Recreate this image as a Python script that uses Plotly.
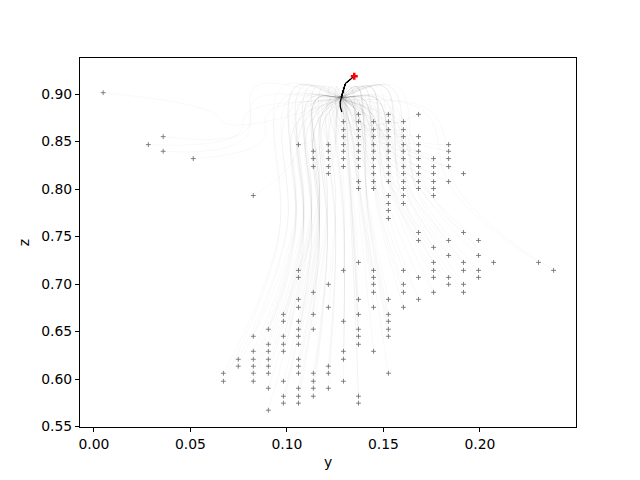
import plotly.graph_objects as go

# Start points, grouped by row (z value) -> list of y values
row_z = [0.9015, 0.8787, 0.8710, 0.8626, 0.8552, 0.8468, 0.8398, 0.8321, 0.8237, 0.8163,
         0.8079, 0.8006, 0.7932, 0.7848, 0.7774, 0.7690, 0.7543, 0.7459, 0.7386, 0.7301,
         0.7228, 0.7144, 0.7070, 0.6997, 0.6913, 0.6839, 0.6755, 0.6681, 0.6608, 0.6524,
         0.6450, 0.6366, 0.6292, 0.6208, 0.6135, 0.6061, 0.5977, 0.5903, 0.5819, 0.5746,
         0.5672]
row_y = [
    [0.0048],
    [0.1371, 0.1526, 0.1682],
    [0.1293, 0.1371, 0.1449, 0.1526, 0.1604],
    [0.1293, 0.1371, 0.1449, 0.1526, 0.1604],
    [0.0359, 0.1293, 0.1371, 0.1449, 0.1526, 0.1604, 0.1682],
    [0.0282, 0.1060, 0.1215, 0.1293, 0.1371, 0.1449, 0.1526, 0.1604, 0.1682, 0.1838],
    [0.0359, 0.1137, 0.1215, 0.1293, 0.1371, 0.1449, 0.1526, 0.1604, 0.1682, 0.1838],
    [0.0515, 0.1137, 0.1215, 0.1293, 0.1371, 0.1449, 0.1526, 0.1604, 0.1682, 0.1760, 0.1838],
    [0.1137, 0.1215, 0.1293, 0.1371, 0.1449, 0.1526, 0.1604, 0.1682, 0.1760, 0.1838],
    [0.1215, 0.1449, 0.1526, 0.1604, 0.1682, 0.1760, 0.1915],
    [0.1371, 0.1449, 0.1526, 0.1604, 0.1682, 0.1760, 0.1838],
    [0.1371, 0.1449, 0.1604, 0.1682, 0.1760],
    [0.0826, 0.1526, 0.1604, 0.1760],
    [0.1526, 0.1604],
    [0.1526],
    [0.1526],
    [0.1682, 0.1915],
    [0.1682, 0.1838, 0.1993],
    [0.1760],
    [0.1838, 0.1993],
    [0.1371, 0.1760, 0.1915, 0.2071, 0.2304],
    [0.1060, 0.1293, 0.1449, 0.1604, 0.1760, 0.1915, 0.1993, 0.2382],
    [0.1060, 0.1449, 0.1682, 0.1760, 0.1838, 0.1993],
    [0.1215, 0.1449, 0.1604, 0.1838, 0.1915],
    [0.1137, 0.1449, 0.1604, 0.1760, 0.1915],
    [0.1060, 0.1371, 0.1526, 0.1682],
    [0.1060, 0.1215, 0.1449, 0.1604],
    [0.0982, 0.1137, 0.1371, 0.1526],
    [0.0982, 0.1060, 0.1293, 0.1526],
    [0.0904, 0.1060, 0.1137, 0.1371, 0.1526],
    [0.0826, 0.0982, 0.1060, 0.1371, 0.1526],
    [0.0904, 0.0982, 0.1060, 0.1371],
    [0.0826, 0.0904, 0.0982, 0.1293, 0.1449],
    [0.0748, 0.0826, 0.0904, 0.1060, 0.1293],
    [0.0748, 0.0826, 0.0904, 0.1060, 0.1215],
    [0.0671, 0.0826, 0.0904, 0.1060, 0.1137, 0.1215, 0.1526],
    [0.0671, 0.0826, 0.0982, 0.1137, 0.1293],
    [0.0904, 0.1060, 0.1137, 0.1215],
    [0.0982, 0.1060, 0.1137, 0.1371],
    [0.0982, 0.1060, 0.1371],
    [0.0904],
]

# Highlighted (black) trajectory to the end point
path_y = [0.1285, 0.1277, 0.1276, 0.1283, 0.1290, 0.1298, 0.1305, 0.1319, 0.1331, 0.1342, 0.1349]
path_z = [0.8811, 0.8863, 0.8916, 0.8976, 0.9021, 0.9074, 0.9116, 0.9137, 0.9158, 0.9179, 0.9189]

end_y = [0.1349]
end_z = [0.9189]

pts_y = [y for ys in row_y for y in ys]
pts_z = [z for z, ys in zip(row_z, row_y) for _ in ys]

fig = go.Figure()

# faint trajectories from every start point, fanning into a cloud and joining the end path
for i, (y0, z0) in enumerate(zip(pts_y, pts_z)):
    v = (i % 4) / 3.0
    w1y = y0 + 0.45 * (0.130 - y0)
    w1z = z0 + 0.55 * (0.865 - z0)
    w2y = 0.126 + 0.45 * (y0 - 0.130)
    w2z = 0.868 + 0.04 * v
    fig.add_trace(go.Scatter(
        x=[y0, w1y, w2y] + path_y[3:], y=[z0, w1z, w2z] + path_z[3:],
        mode="lines", line=dict(color="rgba(0,0,0,0.04)", width=0.8, shape="spline", smoothing=1.2),
        hoverinfo="skip", showlegend=False))

fig.add_trace(go.Scatter(x=path_y, y=path_z, mode="lines",
                         line=dict(color="black", width=1.3), showlegend=False))

fig.add_trace(go.Scatter(x=pts_y, y=pts_z, mode="markers",
                         marker=dict(symbol="cross-thin", size=3.5,
                                     line=dict(color="rgba(110,110,110,0.85)", width=1)),
                         showlegend=False))

fig.add_trace(go.Scatter(x=end_y, y=end_z, mode="markers",
                         marker=dict(symbol="cross-thin", size=5,
                                     line=dict(color="red", width=2.5)),
                         showlegend=False))

font = dict(family="DejaVu Sans", size=13.9, color="black")
axis_common = dict(showgrid=False, zeroline=False, showline=True, linecolor="black",
                   linewidth=1, mirror=True, ticks="outside", ticklen=4, tickwidth=1,
                   tickcolor="black", tickfont=font)

fig.update_layout(
    width=640, height=480,
    margin=dict(l=80, r=64, t=58, b=53),
    plot_bgcolor="white", paper_bgcolor="white",
    xaxis=dict(range=[-0.0072, 0.2498], tickvals=[0, 0.05, 0.1, 0.15, 0.2, 0.25],
               tickformat=".2f", title=dict(text="y", font=font, standoff=6),
               **axis_common),
    yaxis=dict(range=[0.5495, 0.938], tickvals=[0.55, 0.6, 0.65, 0.7, 0.75, 0.8, 0.85, 0.9],
               tickformat=".2f", title=dict(text="z", font=font, standoff=8),
               **axis_common),
)

fig.write_html("out.html", post_script="document.body.style.margin='0';",
               config={"displayModeBar": False})
